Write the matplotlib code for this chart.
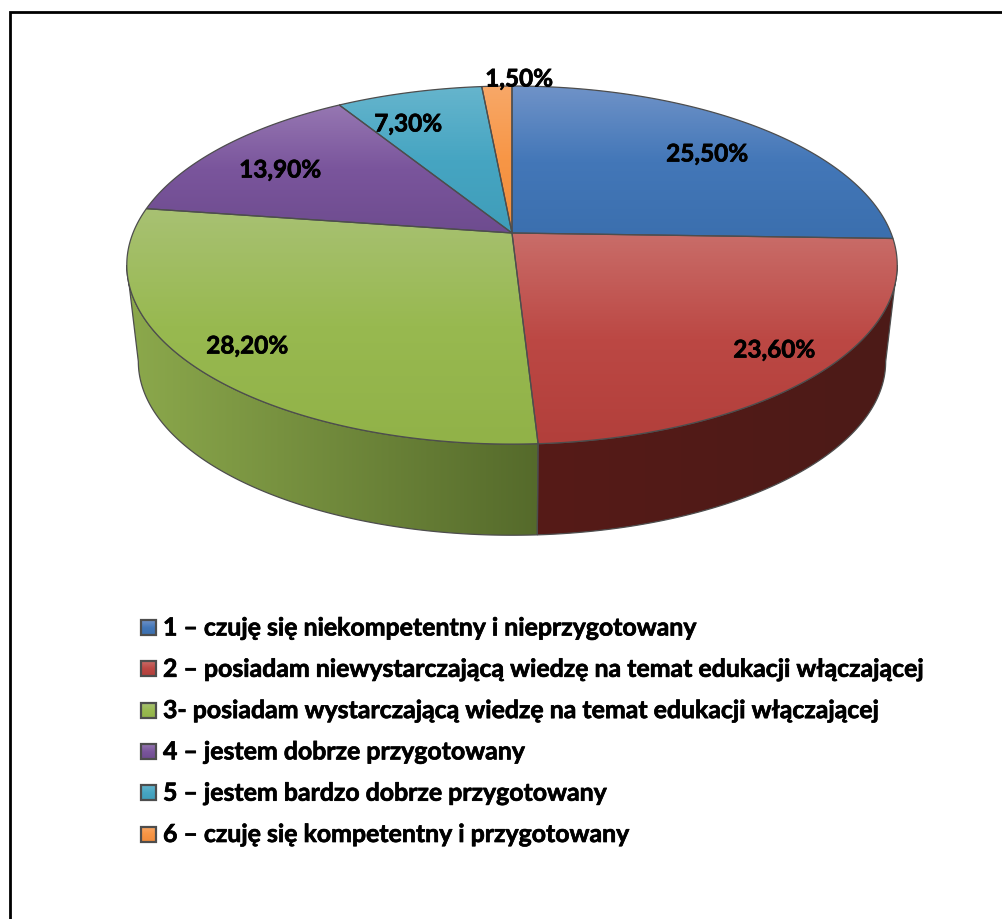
import numpy as np
import matplotlib
matplotlib.use("Agg")
from matplotlib import pyplot as plt
from matplotlib import patheffects
from matplotlib.colors import LinearSegmentedColormap
from matplotlib.patches import Polygon

# data
percent_values = [25.5, 23.6, 28.2, 13.9, 7.3, 1.5]
percent_labels = ["25,50%", "23,60%", "28,20%", "13,90%", "7,30%", "1,50%"]
legend_labels = [
    "1 – czuję się niekompetentny i nieprzygotowany",
    "2 – posiadam niewystarczającą wiedzę na temat edukacji włączającej",
    "3- posiadam wystarczającą wiedzę na temat edukacji włączającej",
    "4 – jestem dobrze przygotowany",
    "5 – jestem bardzo dobrze przygotowany",
    "6 – czuję się kompetentny i przygotowany",
]

# colours: light, base, dark for the top face
top_colors = [
    ("#7093c8", "#4377b8", "#3b6fae"),
    ("#c96d69", "#bc4844", "#b23f3b"),
    ("#a8c173", "#98b950", "#91b248"),
    ("#9677b2", "#7a559c", "#6e4c8f"),
    ("#66b5cd", "#46a5c2", "#3f9db9"),
    ("#f8a868", "#f79646", "#f08c3c"),
]
side_colors = [
    ("#2a4468", "#2a4468"),
    ("#561a17", "#4c1b18"),
    ("#8ca94c", "#556a2b"),
    ("#4a3560", "#4a3560"),
    ("#2a6a7d", "#2a6a7d"),
    ("#a0601f", "#a0601f"),
]
edge_color = "#4d4d4d"

# layout, in pixels
cx, cy = 512, 234
radius_x, radius_y, persp = 379, 173.3, 0.179
drop, bottom_scale = 97.5, 0.97
label_pos = [(707, 155), (774, 351), (247, 347), (280, 171), (408, 125), (519, 80)]
legend_x, legend_top, legend_step = 141.5, 628.5, 41.3
font_name = "Lato"
heavier = [patheffects.withStroke(linewidth=0.5, foreground="black")]


def project(angle, shift=0.0, scale=1.0):
    rad = np.radians(angle)
    u, v = np.sin(rad), np.cos(rad)
    w = 1 + persp * v
    return np.column_stack((cx + scale * radius_x * u / w, cy + shift - scale * radius_y * v / w))


def gradient_fill(ax, xy, colors, horizontal=False, zorder=2, lw=0.9):
    cmap = LinearSegmentedColormap.from_list("g", colors)
    x0, y0 = xy.min(axis=0)
    x1, y1 = xy.max(axis=0)
    ramp = np.linspace(0, 1, 256)
    arr = ramp[None, :] if horizontal else ramp[:, None]
    im = ax.imshow(arr, extent=[x0, x1, y1, y0], cmap=cmap, vmin=0, vmax=1,
                   aspect="auto", interpolation="bilinear", zorder=zorder)
    patch = Polygon(xy, closed=True, fc="none", ec=edge_color, lw=lw, zorder=zorder + 0.1)
    ax.add_patch(patch)
    im.set_clip_path(patch)


fig = plt.figure(figsize=(10.02, 9.2), dpi=100)
ax = fig.add_axes([0, 0, 1, 1])

# silhouette limits of the visible side wall
side_from = np.degrees(np.arccos(-persp))
side_to = 360 - side_from

edges = np.cumsum([0] + percent_values) / sum(percent_values) * 360

# side walls
for i in range(len(percent_values)):
    a0, a1 = max(edges[i], side_from), min(edges[i + 1], side_to)
    if a1 <= a0:
        continue
    angles = np.linspace(a0, a1, 200)
    xy = np.vstack((project(angles), project(angles, drop, bottom_scale)[::-1]))
    gradient_fill(ax, xy, side_colors[i], horizontal=True, zorder=2)

# top faces
for i in range(len(percent_values)):
    angles = np.linspace(edges[i], edges[i + 1], 200)
    xy = np.vstack(([[cx, cy]], project(angles)))
    gradient_fill(ax, xy, top_colors[i], zorder=3)

for (x, y), text in zip(label_pos, percent_labels):
    ax.text(x, y, text, ha="center", va="center", fontsize=17.5, fontweight="bold",
            family=font_name, color="black", zorder=6, path_effects=heavier)

# legend
for i, text in enumerate(legend_labels):
    y = legend_top + i * legend_step
    square = np.array([[legend_x, y - 7.5], [legend_x + 15, y - 7.5],
                       [legend_x + 15, y + 7.5], [legend_x, y + 7.5]])
    gradient_fill(ax, square, top_colors[i], zorder=3, lw=1.6)
    ax.text(legend_x + 21.5, y + 0.5, text, ha="left", va="center", fontsize=17.9, fontweight="bold",
            family=font_name, color="black", zorder=6, path_effects=heavier)

# frame: only top and left are visible in the picture
ax.plot([10, 10, 1002], [920, 13, 13], color="black", lw=2, solid_joinstyle="miter", zorder=7)

ax.set_xlim(0, 1002)
ax.set_ylim(920, 0)
ax.axis("off")
fig.savefig("out.png", dpi=100, facecolor="white")
